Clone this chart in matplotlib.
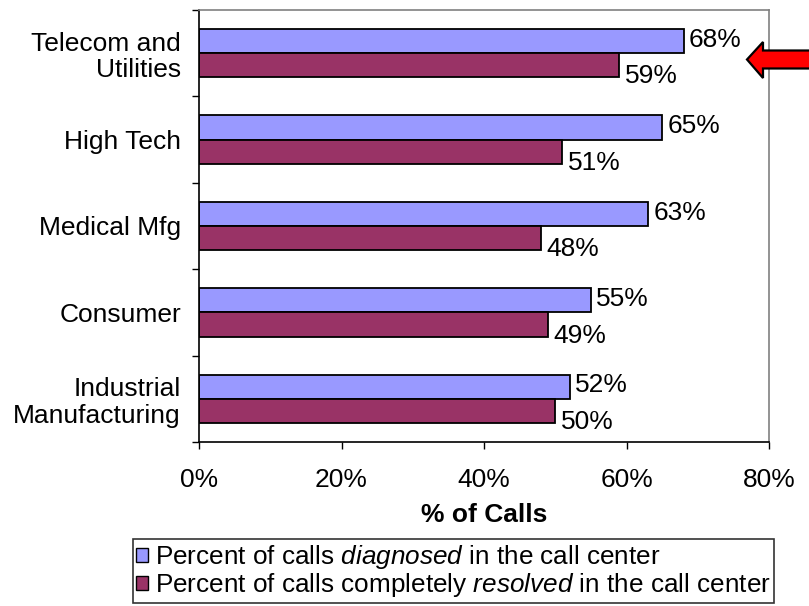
import matplotlib
matplotlib.use("Agg")
import matplotlib.pyplot as plt
from matplotlib.patches import Patch, Polygon
import numpy as np

plt.rcParams['font.family'] = ['Liberation Sans', 'DejaVu Sans']
plt.rcParams['mathtext.fontset'] = 'custom'
plt.rcParams['mathtext.rm'] = 'Liberation Sans'
plt.rcParams['mathtext.it'] = 'Liberation Sans:italic'

categories = ["Telecom and\nUtilities", "High Tech", "Medical Mfg", "Consumer",
              "Industrial\nManufacturing"]
diagnosed = [68, 65, 63, 55, 52]
resolved = [59, 51, 48, 49, 50]
xticks = [0, 20, 40, 60, 80]
legend_labels = [r"Percent of calls $\it{diagnosed}$ in the call center",
                 r"Percent of calls completely $\it{resolved}$ in the call center"]
blue = "#9999FF"
maroon = "#993366"

W, H = 809, 606
fig = plt.figure(figsize=(W / 100, H / 100), dpi=100)
ax = fig.add_axes([199 / W, 1 - 442 / H, (769 - 199) / W, (442 - 10) / H])

y = np.arange(len(categories))
bh = 0.28
ax.barh(y - bh / 2, diagnosed, height=bh, color=blue, edgecolor="black", linewidth=1.3)
ax.barh(y + bh / 2, resolved, height=bh, color=maroon, edgecolor="black", linewidth=1.3)

fs = 19
for yi, d, r in zip(y, diagnosed, resolved):
    ax.annotate(f"{d}%", (d, yi - bh / 2), xytext=(4, 1), textcoords="offset points",
                ha="left", va="center", fontsize=fs)
    ax.annotate(f"{r}%", (r, yi + bh / 2), xytext=(4, -8), textcoords="offset points",
                ha="left", va="center", fontsize=fs)

ax.set_xlim(0, 80)
ax.set_ylim(len(categories) - 0.5, -0.5)
ax.set_xticks(xticks)
ax.set_xticklabels([f"{t}%" for t in xticks], fontsize=fs)
ax.set_yticks(y)
ax.set_yticklabels(categories, fontsize=fs, ha="right", linespacing=1.12)
ax.set_yticks(np.arange(len(categories) + 1) - 0.5, minor=True)
ax.tick_params(axis="y", which="major", length=0, pad=13)
ax.tick_params(axis="y", which="minor", length=5, width=1, direction="out")
ax.tick_params(axis="x", which="major", length=5, width=1, direction="out", pad=13.5)
ax.set_xlabel("% of Calls", fontsize=fs, fontweight="bold", labelpad=8)

for s in ["left", "bottom"]:
    ax.spines[s].set_color("black")
    ax.spines[s].set_linewidth(1.2)
for s in ["top", "right"]:
    ax.spines[s].set_color("#808080")
    ax.spines[s].set_linewidth(1.2)

handles = [Patch(facecolor=blue, edgecolor="black", linewidth=1),
           Patch(facecolor=maroon, edgecolor="black", linewidth=1)]
leg = fig.legend(handles, legend_labels, loc="center",
                 bbox_to_anchor=((133 + 774) / 2 / W, 1 - (538 + 604) / 2 / H),
                 fontsize=18.8, frameon=True, fancybox=False, handlelength=0.45,
                 handleheight=0.45, handletextpad=0.25, borderpad=0.15,
                 labelspacing=0.0, borderaxespad=0)
leg.get_frame().set_edgecolor("black")
leg.get_frame().set_linewidth(1.2)

# red arrow (in pixel coordinates of the figure)
pts = [(747, 59.5), (763, 42), (763, 50.5), (812, 50.5), (812, 68.5), (763, 68.5), (763, 78)]
pts = [(px / W, 1 - py / H) for px, py in pts]
fig.patches.append(Polygon(pts, closed=True, facecolor="#FF0000", edgecolor="black",
                           linewidth=1.6, transform=fig.transFigure, clip_on=False))

fig.savefig("out.png", dpi=100)
